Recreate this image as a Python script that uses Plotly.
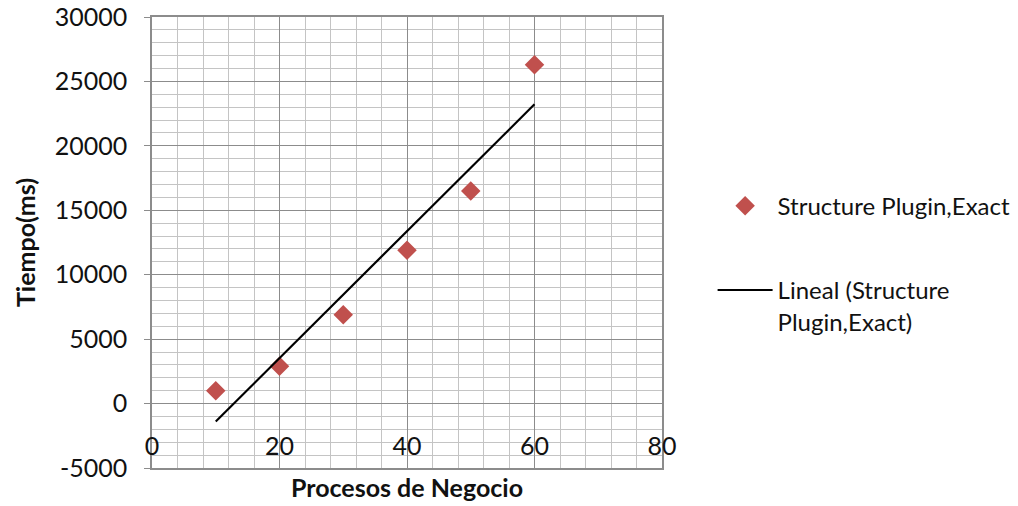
import numpy as np
import plotly.graph_objects as go

# Business processes vs. measured time
procesos = [10, 20, 30, 40, 50, 60]
tiempo_ms = [1000, 2900, 6900, 11900, 16500, 26300]

x_ticks = [0, 20, 40, 60, 80]
y_ticks = [-5000, 0, 5000, 10000, 15000, 20000, 25000, 30000]
y_tick_text = ["-5000", "0", "5000", "10000", "15000", "20000", "25000", "30000"]

serie_nombre = "Structure Plugin,Exact"
tendencia_nombre = "Lineal (Structure<br>Plugin,Exact)"

FONT = "Lato"
RED = "#C0504D"
MAJOR = "#8C8C8C"
MINOR = "#C4C4C4"

# least-squares linear trend over the measured range
pendiente, corte = np.polyfit(procesos, tiempo_ms, 1)
x_trend = np.array([min(procesos), max(procesos)])
y_trend = pendiente * x_trend + corte

fig = go.Figure()
fig.add_trace(go.Scatter(
    x=procesos, y=tiempo_ms, mode="markers", name=serie_nombre,
    marker=dict(symbol="diamond", size=15, color=RED, line=dict(width=0)),
    legendgroup="a",
))
fig.add_trace(go.Scatter(
    x=x_trend, y=y_trend, mode="lines", name=tendencia_nombre,
    line=dict(color="#000000", width=2.2),
    legendgroup="b",
))
# helper axis carrying only the x tick labels, lifted inside the plot area
fig.add_trace(go.Scatter(x=[0, 80], y=[None, None], xaxis="x2", showlegend=False,
                         hoverinfo="skip"))

fig.update_layout(
    width=1018, height=506,
    margin=dict(l=152, r=356, t=17, b=38, autoexpand=False),
    paper_bgcolor="white", plot_bgcolor="white",
    font=dict(family=FONT, size=24, color="#111111"),
    xaxis=dict(
        range=[0, 80], tickvals=x_ticks, showticklabels=False, automargin=False,
        showgrid=True, gridcolor=MAJOR, gridwidth=1,
        minor=dict(dtick=4, tick0=0, showgrid=True, gridcolor=MINOR, gridwidth=1),
        showline=True, linecolor=MAJOR, linewidth=1.5, mirror=True,
        zeroline=False, ticks="",
        title=dict(text="<b>Procesos de Negocio</b>", font=dict(size=25), standoff=11),
    ),
    xaxis2=dict(
        range=[0, 80], tickvals=x_ticks, ticktext=[str(v) for v in x_ticks],
        overlaying="x", anchor="free", automargin=False,
        position=0.087, side="bottom", showgrid=False, showline=False,
        zeroline=False, ticks="", tickfont=dict(size=25),
    ),
    yaxis=dict(
        range=[-5000, 30000], tickvals=y_ticks, ticktext=y_tick_text, automargin=False,
        showgrid=True, gridcolor=MAJOR, gridwidth=1,
        minor=dict(dtick=1000, tick0=0, showgrid=True, gridcolor=MINOR, gridwidth=1),
        showline=True, linecolor=MAJOR, linewidth=1.5, mirror=True,
        zeroline=False, ticks="outside", ticklen=6, tickcolor=MAJOR,
        ticklabelstandoff=12, tickfont=dict(size=25),
        title=dict(text="<b>Tiempo(ms)</b>", font=dict(size=25), standoff=12),
    ),
    legend=dict(
        xref="container", yref="container", x=0.700, y=0.637,
        xanchor="left", yanchor="top", itemwidth=55, valign="top",
        font=dict(size=24), tracegroupgap=50, bgcolor="rgba(0,0,0,0)",
    ),
    showlegend=True,
)

fig.write_html("out.html")
